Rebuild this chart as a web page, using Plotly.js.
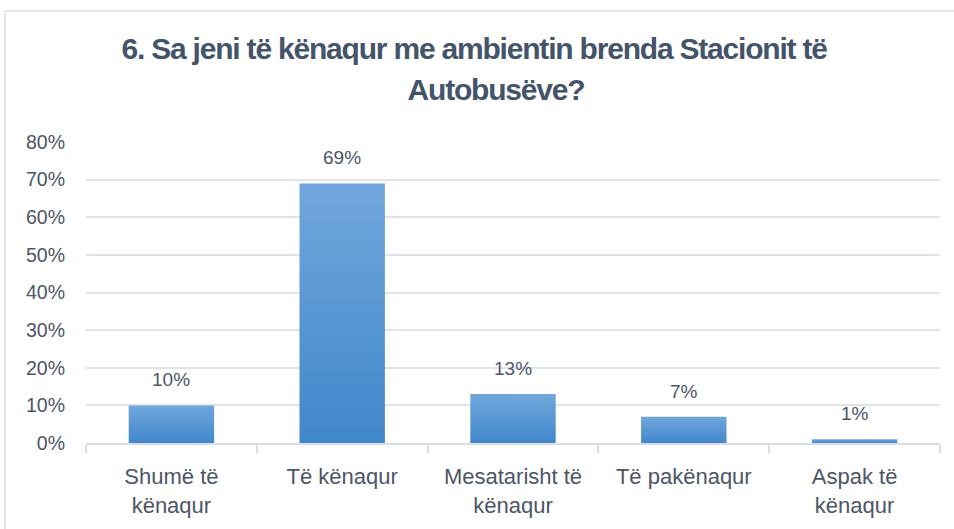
<!DOCTYPE html>
<html>
<head>
<meta charset="utf-8">
<script src="https://cdn.plot.ly/plotly-3.0.1.min.js"></script>
<style>
html,body{margin:0;padding:0;background:#fff;}
#wrap{position:relative;width:954px;height:529px;overflow:hidden;}
#chart{position:absolute;left:0;top:0;width:954px;height:529px;}
#frame{position:absolute;left:4px;top:10px;width:970px;height:540px;border:2px solid #e3e7ee;pointer-events:none;box-sizing:border-box;}
</style>
</head>
<body>
<div id="wrap"><div id="chart"></div><div id="frame"></div></div>
<script>
var categories = ["Shumë të<br>kënaqur", "Të kënaqur", "Mesatarisht të<br>kënaqur", "Të pakënaqur", "Aspak të<br>kënaqur"];
var values = [0.10, 0.69, 0.13, 0.07, 0.01];
var valueLabels = ["10%", "69%", "13%", "7%", "1%"];
var titleLine1 = "6. Sa jeni të kënaqur me ambientin brenda Stacionit të";
var titleLine2 = "Autobusëve?";
var yTickVals = [0, 0.1, 0.2, 0.3, 0.4, 0.5, 0.6, 0.7, 0.8];

var textColor = "#4d5566";
var font = "Liberation Sans, Arial, sans-serif";

var trace = {
  type: "bar",
  x: categories,
  y: values,
  width: 0.5,
  marker: {color: "#5697d6", line: {width: 0}},
  hoverinfo: "none"
};

var annotations = values.map(function (v, i) {
  return {
    x: categories[i], y: v, xref: "x", yref: "y",
    text: valueLabels[i], showarrow: false,
    yanchor: "bottom", yshift: 13,
    font: {family: font, size: 19, color: textColor}
  };
});
annotations.push({
  xref: "paper", yref: "paper", x: 0.5, y: 1, yanchor: "middle",
  xanchor: "center", yshift: 94, xshift: -39,
  text: "<b>" + titleLine1 + "</b>", showarrow: false,
  font: {family: font, size: 30, color: "#44546a"}
});
annotations.push({
  xref: "paper", yref: "paper", x: 0.5, y: 1, yanchor: "middle",
  xanchor: "center", yshift: 53, xshift: -17,
  text: "<b>" + titleLine2 + "</b>", showarrow: false,
  font: {family: font, size: 30, color: "#44546a"}
});

var layout = {
  width: 954, height: 529,
  margin: {l: 86, r: 14, t: 142, b: 86, pad: 0},
  paper_bgcolor: "rgba(0,0,0,0)",
  plot_bgcolor: "rgba(0,0,0,0)",
  showlegend: false,
  bargap: 0.5,
  xaxis: {
    type: "category",
    showgrid: false,
    showline: true, linecolor: "#d9dde5", linewidth: 2,
    ticks: "outside", tickson: "boundaries", ticklen: 8, tickcolor: "#d9dde5", tickwidth: 2,
    ticklabelstandoff: 13,
    tickfont: {family: font, size: 22, color: textColor},
    zeroline: false, fixedrange: true
  },
  yaxis: {
    range: [0, 0.8],
    tickvals: yTickVals,
    tickformat: ".0%",
    showgrid: true, gridcolor: "#dfe3ea", gridwidth: 2,
    zeroline: false, showline: false,
    ticks: "", ticklabelstandoff: 20,
    tickfont: {family: font, size: 19.5, color: textColor},
    fixedrange: true
  },
  annotations: annotations
};

Plotly.newPlot("chart", [trace], layout, {staticPlot: true, displayModeBar: false}).then(function (gd) {
  var svg = gd.querySelector("svg.main-svg");
  var ns = "http://www.w3.org/2000/svg";
  var defs = svg.querySelector("defs") || svg.insertBefore(document.createElementNS(ns, "defs"), svg.firstChild);
  var lg = document.createElementNS(ns, "linearGradient");
  lg.setAttribute("id", "barGrad");
  lg.setAttribute("x1", "0"); lg.setAttribute("y1", "0");
  lg.setAttribute("x2", "0"); lg.setAttribute("y2", "1");
  [["0%", "#71a7dc"], ["100%", "#4087cb"]].forEach(function (s) {
    var st = document.createElementNS(ns, "stop");
    st.setAttribute("offset", s[0]); st.setAttribute("stop-color", s[1]);
    lg.appendChild(st);
  });
  defs.appendChild(lg);
  gd.querySelectorAll(".bars .point path").forEach(function (p) {
    p.style.fill = "url(#barGrad)";
  });
  var ann = gd.querySelectorAll(".annotation-text");
  for (var i = values.length; i < ann.length; i++) {
    ann[i].style.letterSpacing = "-1.2px";
    ann[i].setAttribute("text-anchor", "middle");
  }
});
</script>
</body>
</html>
